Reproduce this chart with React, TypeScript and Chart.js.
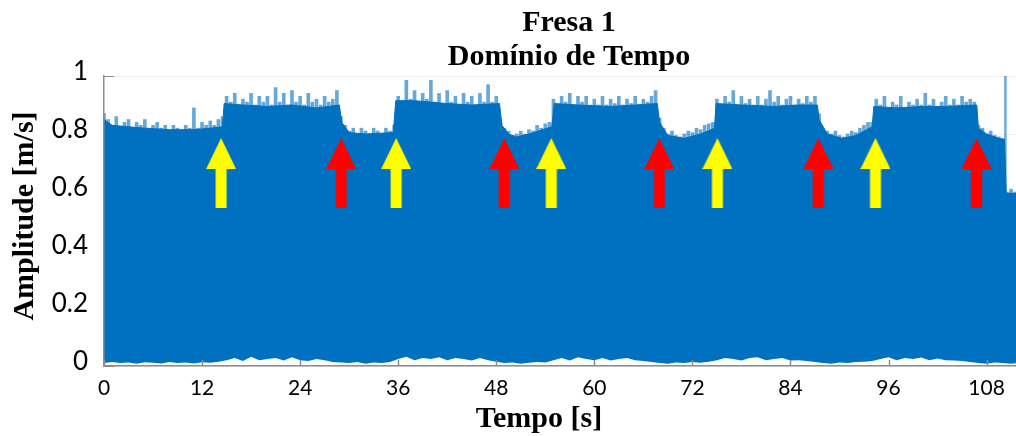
import { useEffect, useRef } from 'react';
import { Chart, registerables } from 'chart.js';

Chart.register(...registerables);

// ---- data ----
const X_MAX = 111.6;
const PEAK_STEP = 0.5; // seconds between peak samples
const LOWER_STEP = 1; // seconds between lower-envelope samples

// solid core of the signal (upper edge of the dense band), breakpoints
const coreTimes = [
  0, 1, 3, 5, 8, 11, 13, 14.5, 14.7, 17, 20, 23, 26, 28.8, 29.1, 30, 32, 35.4, 35.7, 38,
  42, 45, 48.4, 48.7, 49.5, 50.5, 52, 54.8, 55.1, 58, 62, 65, 67.7, 68, 69, 71, 73, 74.7,
  74.9, 78, 82, 85, 87.3, 87.5, 88.5, 90.3, 92, 94.0, 94.2, 97, 100, 103, 106.8, 107, 108,
  109.5, 110.2, 110.4, 112,
];
const coreValues = [
  0.85, 0.83, 0.825, 0.82, 0.815, 0.815, 0.82, 0.825, 0.905, 0.9, 0.895, 0.9, 0.89, 0.9,
  0.84, 0.805, 0.8, 0.805, 0.915, 0.915, 0.905, 0.9, 0.905, 0.83, 0.8, 0.79, 0.8, 0.825,
  0.905, 0.9, 0.895, 0.9, 0.905, 0.84, 0.795, 0.785, 0.8, 0.82, 0.905, 0.9, 0.895, 0.9,
  0.9, 0.85, 0.8, 0.785, 0.795, 0.825, 0.895, 0.89, 0.895, 0.895, 0.9, 0.82, 0.8, 0.785,
  0.78, 0.595, 0.595,
];

// thin peaks poking above the core, t = 0 … 112 s every 0.5 s
const peakValues = [
  // 0 – 14.5 s (idle)
  0.87, 0.85, 0.83, 0.86, 0.82, 0.84, 0.85, 0.82, 0.84, 0.83,
  0.85, 0.82, 0.83, 0.84, 0.82, 0.83, 0.815, 0.83, 0.82, 0.81,
  0.83, 0.82, 0.89, 0.82, 0.84, 0.83, 0.845, 0.83, 0.85, 0.86,
  // 15 – 28.5 s (cutting)
  0.93, 0.91, 0.94, 0.9, 0.92, 0.91, 0.94, 0.9, 0.93, 0.91,
  0.93, 0.9, 0.96, 0.91, 0.94, 0.9, 0.95, 0.91, 0.93, 0.9,
  0.94, 0.91, 0.92, 0.9, 0.93, 0.91, 0.92, 0.95,
  // 29 – 35.5 s
  0.86, 0.83, 0.81, 0.82, 0.8, 0.82, 0.81, 0.8, 0.82, 0.81, 0.8, 0.82, 0.81, 0.83,
  // 36 – 48.5 s
  0.93, 0.91, 0.985, 0.92, 0.95, 0.91, 0.94, 0.92, 0.985, 0.91,
  0.94, 0.9, 0.95, 0.91, 0.93, 0.9, 0.94, 0.91, 0.93, 0.9,
  0.94, 0.91, 0.97, 0.91, 0.93, 0.85,
  // 49 – 54.5 s
  0.82, 0.81, 0.795, 0.8, 0.81, 0.8, 0.815, 0.81, 0.83, 0.82, 0.835, 0.84,
  // 55 – 67.5 s
  0.92, 0.9, 0.93, 0.91, 0.94, 0.9, 0.93, 0.91, 0.93, 0.9,
  0.92, 0.9, 0.93, 0.9, 0.92, 0.905, 0.93, 0.9, 0.92, 0.905,
  0.93, 0.9, 0.92, 0.91, 0.93, 0.95,
  // 68 – 74.5 s
  0.855, 0.82, 0.8, 0.81, 0.795, 0.79, 0.8, 0.81, 0.805, 0.82, 0.815, 0.83, 0.835, 0.84,
  // 75 – 87 s
  0.92, 0.9, 0.93, 0.91, 0.95, 0.9, 0.93, 0.905, 0.92, 0.9,
  0.93, 0.9, 0.92, 0.95, 0.91, 0.93, 0.9, 0.92, 0.93, 0.9,
  0.92, 0.905, 0.93, 0.91, 0.93,
  // 87.5 – 94 s
  0.87, 0.82, 0.81, 0.8, 0.81, 0.795, 0.79, 0.8, 0.81, 0.805, 0.82, 0.83, 0.84, 0.84,
  // 94.5 – 106.5 s
  0.92, 0.9, 0.93, 0.89, 0.91, 0.9, 0.93, 0.89, 0.91, 0.9,
  0.92, 0.9, 0.94, 0.9, 0.92, 0.89, 0.91, 0.93, 0.9, 0.92,
  0.9, 0.93, 0.91, 0.92, 0.91,
  // 107 – 110 s
  0.83, 0.82, 0.8, 0.81, 0.795, 0.79, 0.785,
  // 110.5 – 112 s
  0.6, 0.61, 0.6, 0.6,
];

// lower envelope of |a(t)|, t = 0 … 112 s every 1 s
const amplitudeLower = [
  0.01, 0.014, 0.01, 0.012, 0.008, 0.013, 0.011, 0.009, 0.014, 0.01, 0.012, 0.009, 0.013, 0.011,
  0.015, 0.02, 0.028, 0.017, 0.032, 0.02, 0.024, 0.028, 0.019, 0.03, 0.02, 0.017, 0.024, 0.02, 0.014,
  0.012, 0.01, 0.014, 0.008, 0.012, 0.01, 0.014,
  0.024, 0.032, 0.02, 0.028, 0.024, 0.03, 0.02, 0.028, 0.024, 0.019, 0.028, 0.02, 0.015,
  0.01, 0.012, 0.008, 0.011, 0.014, 0.012,
  0.02, 0.028, 0.019, 0.03, 0.024, 0.02, 0.028, 0.019, 0.024, 0.028, 0.02, 0.017, 0.014,
  0.01, 0.008, 0.012, 0.01, 0.014, 0.011, 0.015,
  0.02, 0.028, 0.024, 0.019, 0.028, 0.03, 0.02, 0.024, 0.028, 0.019, 0.02, 0.017, 0.014,
  0.01, 0.008, 0.012, 0.01, 0.014, 0.015, 0.017,
  0.024, 0.03, 0.02, 0.028, 0.024, 0.029, 0.02, 0.026, 0.02, 0.019, 0.017, 0.014,
  0.01, 0.008, 0.012, 0.01, 0.008, 0.01,
];

// isolated thin spike near the end of the record
const spikeTimes = [110.3];
const spikeTops = [1.0];
const spikeBase = 0.5;

// markers: start (yellow) and end (red) of each cut
const yellowArrowTimes = [14.33, 35.75, 54.73, 75.06, 94.4];
const redArrowTimes = [29.02, 48.98, 67.96, 87.42, 106.77];
const arrowLevel = 0.6655;

const xTickValues = [0, 12, 24, 36, 48, 60, 72, 84, 96, 108];
const xTickLabels = ['0', '12', '24', '36', '48', '60', '72', '84', '96', '108'];
const yTickValues = [0, 0.2, 0.4, 0.6, 0.8, 1];
const yTickLabels = ['0', '0.2', '0.4', '0.6', '0.8', '1'];

const titleLines = ['Fresa 1', 'Domínio de Tempo'];
const xTitle = 'Tempo [s]';
const yTitle = 'Amplitude [m/s]';

// ---- styling ----
const SIGNAL_BLUE = '#0070C0';
const PEAK_BLUE = 'rgba(0,112,192,0.6)';
const AXIS_GRAY = '#8c8c8c';
const TICK_FONT = 'Lato';
const TITLE_FONT = '"Liberation Serif", "Times New Roman", serif';

function makeArrow(color: string): HTMLCanvasElement {
  const c = document.createElement('canvas');
  c.width = 30;
  c.height = 70;
  const g = c.getContext('2d')!;
  g.fillStyle = color;
  g.beginPath();
  g.moveTo(15, 0);
  g.lineTo(30, 31);
  g.lineTo(20.5, 31);
  g.lineTo(20.5, 70);
  g.lineTo(9.5, 70);
  g.lineTo(9.5, 31);
  g.lineTo(0, 31);
  g.closePath();
  g.fill();
  return c;
}

const textPlugin = {
  id: 'textPlugin',
  afterDraw(chart: any) {
    const { ctx } = chart;
    ctx.save();
    ctx.fillStyle = '#000';
    ctx.textAlign = 'center';
    ctx.textBaseline = 'alphabetic';
    ctx.font = `bold 30px ${TITLE_FONT}`;
    ctx.fillText(titleLines[0], 569, 31);
    ctx.fillText(titleLines[1], 569, 65);
    ctx.fillText(xTitle, 539, 427);
    ctx.translate(33, 216);
    ctx.rotate(-Math.PI / 2);
    ctx.fillText(yTitle, 0, 0);
    ctx.restore();
  },
};

const tickMarkPlugin = {
  id: 'tickMarks',
  beforeDatasetsDraw(chart: any) {
    const { ctx, chartArea, scales } = chart;
    const y = scales.y;
    ctx.save();
    ctx.strokeStyle = AXIS_GRAY;
    ctx.lineWidth = 1;
    y.ticks.forEach((t: any) => {
      const py = Math.round(y.getPixelForValue(t.value)) + 0.5;
      ctx.beginPath();
      ctx.moveTo(chartArea.left, py);
      ctx.lineTo(chartArea.left + 10, py);
      ctx.stroke();
    });
    ctx.restore();
  },
  afterDatasetsDraw(chart: any) {
    const { ctx, chartArea, scales } = chart;
    const x = scales.x;
    ctx.save();
    ctx.strokeStyle = AXIS_GRAY;
    ctx.lineWidth = 1.5;
    x.ticks.forEach((t: any) => {
      const px = Math.round(x.getPixelForValue(t.value)) + 0.5;
      ctx.beginPath();
      ctx.moveTo(px, chartArea.bottom);
      ctx.lineTo(px, chartArea.bottom - 6);
      ctx.stroke();
    });
    ctx.restore();
  },
};

export default function App() {
  const canvasRef = useRef<HTMLCanvasElement | null>(null);

  useEffect(() => {
    document.body.style.margin = '0';
    const canvas = canvasRef.current;
    if (!canvas) return;

    const coreData = coreTimes.map((t, i) => ({ x: t, y: coreValues[i] }));
    const peakData = peakValues.map((v, i) => ({ x: i * PEAK_STEP, y: [spikeBase, v] }));
    const lowerData = amplitudeLower.map((v, i) => ({ x: i * LOWER_STEP, y: v }));
    const spikeData = spikeTimes.map((t, i) => ({ x: t, y: [spikeBase, spikeTops[i]] }));
    const yellowData = yellowArrowTimes.map((t) => ({ x: t, y: arrowLevel }));
    const redData = redArrowTimes.map((t) => ({ x: t, y: arrowLevel }));

    const chart = new Chart(canvas, {
      type: 'line',
      data: {
        datasets: [
          {
            type: 'bar',
            label: 'spike',
            data: spikeData as any,
            backgroundColor: 'rgba(95,160,215,0.85)',
            barThickness: 2,
            grouped: false,
            order: 5,
          } as any,
          {
            type: 'bar',
            label: 'peaks',
            data: peakData as any,
            backgroundColor: PEAK_BLUE,
            barThickness: 3,
            grouped: false,
            order: 4,
          } as any,
          {
            type: 'line',
            label: 'core',
            data: coreData,
            borderColor: SIGNAL_BLUE,
            borderWidth: 1,
            backgroundColor: SIGNAL_BLUE,
            fill: 'origin',
            pointRadius: 0,
            tension: 0,
            order: 3,
          },
          {
            type: 'line',
            label: 'lower',
            data: lowerData,
            borderColor: 'rgba(255,255,255,0)',
            borderWidth: 1,
            backgroundColor: '#ffffff',
            fill: 'origin',
            pointRadius: 0,
            tension: 0,
            order: 2,
          },
          {
            type: 'scatter',
            label: 'início',
            data: yellowData,
            pointStyle: makeArrow('#ffff00') as any,
            pointRadius: 15,
            order: 1,
          },
          {
            type: 'scatter',
            label: 'fim',
            data: redData,
            pointStyle: makeArrow('#ff0000') as any,
            pointRadius: 15,
            order: 0,
          },
        ],
      },
      options: {
        animation: false,
        responsive: false,
        events: [],
        layout: { autoPadding: false, padding: { top: 76, left: 0, right: 0, bottom: 0 } },
        plugins: {
          legend: { display: false },
          tooltip: { enabled: false },
          title: { display: false },
        },
        scales: {
          x: {
            type: 'linear',
            min: 0,
            max: X_MAX,
            offset: false,
            grid: { display: false, drawTicks: false, offset: false },
            border: { display: true, color: AXIS_GRAY, width: 1.5, z: 1 },
            afterBuildTicks: (scale: any) => {
              scale.ticks = xTickValues.map((v) => ({ value: v }));
            },
            afterFit: (scale: any) => {
              scale.height = 70;
              scale.paddingLeft = 0;
              scale.paddingRight = 0;
            },
            ticks: {
              autoSkip: false,
              maxRotation: 0,
              padding: 10,
              color: '#000',
              font: { family: TICK_FONT, size: 21 },
              callback: (_v: any, i: number) => xTickLabels[i],
            },
          },
          y: {
            type: 'linear',
            min: 0,
            max: 1,
            grid: { color: '#ececec', drawTicks: false },
            border: { display: true, color: AXIS_GRAY, width: 1.5, z: 1 },
            afterBuildTicks: (scale: any) => {
              scale.ticks = yTickValues.map((v) => ({ value: v }));
            },
            afterFit: (scale: any) => {
              scale.width = 104;
              scale.paddingTop = 0;
              scale.paddingBottom = 0;
            },
            ticks: {
              padding: 16,
              labelOffset: -4,
              color: '#000',
              font: { family: TICK_FONT, size: 26 },
              callback: (_v: any, i: number) => yTickLabels[i],
            },
          },
        },
      },
      plugins: [tickMarkPlugin, textPlugin],
    });

    return () => chart.destroy();
  }, []);

  return (
    <div style={{ width: 1016, height: 436, background: '#fff' }}>
      <canvas ref={canvasRef} width={1016} height={436} />
    </div>
  );
}
